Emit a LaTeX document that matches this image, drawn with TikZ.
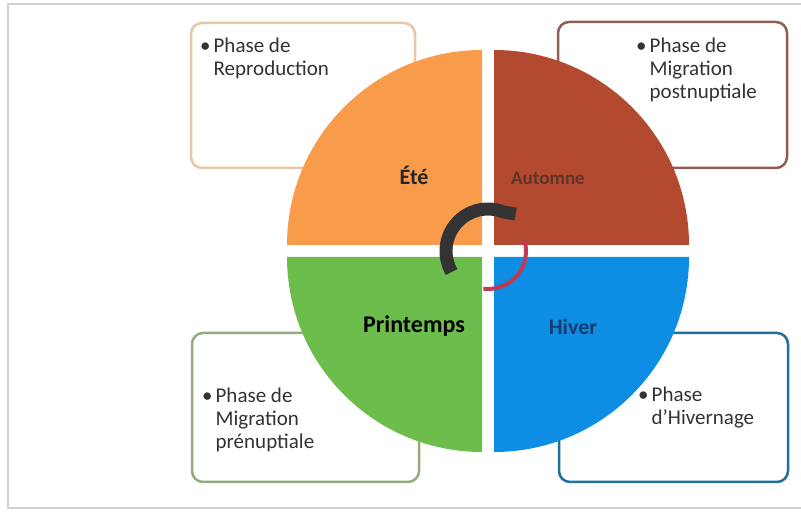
\documentclass[tikz,border=0pt]{standalone}
\usepackage{fontspec}
\setmainfont{Carlito}
\definecolor{ete}{HTML}{F89B4B}
\definecolor{aut}{HTML}{B34A2F}
\definecolor{hiv}{HTML}{0D8DE3}
\definecolor{pri}{HTML}{6CBD4B}
\definecolor{eteB}{HTML}{E9C6A6}
\definecolor{autB}{HTML}{8E5E55}
\definecolor{priB}{HTML}{93AC7E}
\definecolor{hivB}{HTML}{1F6F99}
\definecolor{txt}{HTML}{333333}
\definecolor{arcdark}{HTML}{333333}
\definecolor{arcred}{HTML}{BE3C52}
\begin{document}
\begin{tikzpicture}[x=1bp,y=1bp,
  infobox/.style={line width=2.5bp, rounded corners=11bp, fill=white},
  boxtxt/.style={anchor=north west, inner sep=0pt, text=txt,
    font=\fontsize{21bp}{23bp}\selectfont},
  season/.style={font=\bfseries\fontsize{22bp}{24bp}\selectfont, inner sep=0pt}]
\useasboundingbox (0,0) rectangle (801,513);
% outer frame
\draw[black!18, line width=1.5bp] (801,509) -- (8,509) -- (8,5) -- (801,5);
% boxes
\draw[infobox, draw=eteB] (191,345) rectangle (415,490);
\draw[infobox, draw=autB] (558,345) rectangle (787,491);
\draw[infobox, draw=priB] (192,31) rectangle (419,180);
\draw[infobox, draw=hivB] (559,31) rectangle (788,180);
% box texts
\node[boxtxt] (tTL) at (200,477) {\begin{tabular}{@{}l@{\hspace{3bp}}l@{}}\textbullet & Phase de\\ & Reproduction\end{tabular}};
\node[boxtxt] (tTR) at (636,477) {\begin{tabular}{@{}l@{\hspace{3bp}}l@{}}\textbullet & Phase de\\ & Migration\\ & postnuptiale\end{tabular}};
\node[boxtxt] (tBL) at (202,127) {\begin{tabular}{@{}l@{\hspace{3bp}}l@{}}\textbullet & Phase de\\ & Migration\\ & prénuptiale\end{tabular}};
\node[boxtxt] (tBR) at (638,128) {\begin{tabular}{@{}l@{\hspace{3bp}}l@{}}\textbullet & Phase\\ & d’Hivernage\end{tabular}};
% quadrants
\fill[ete] (482,268) -- (287,268) arc[start angle=180, end angle=90, radius=195bp] -- cycle;
\fill[aut] (494,268) -- (494,463) arc[start angle=90, end angle=0, radius=195bp] -- cycle;
\fill[hiv] (494,256) -- (689,256) arc[start angle=0, end angle=-90, radius=195bp] -- cycle;
\fill[pri] (482,256) -- (482,61) arc[start angle=270, end angle=180, radius=195bp] -- cycle;
% season labels
\node[season, text=black!85] (ete) at (414,338) {Été};
\node[season, text={rgb,255:red,95;green,52;blue,40}, font=\bfseries\fontsize{19bp}{22bp}\selectfont] (aut) at (548,335) {Automne};
\node[season, text=black, font=\bfseries\fontsize{24bp}{26bp}\selectfont] (pri) at (414,187) {Printemps};
\node[season, text={rgb,255:red,25;green,60;blue,110}] (hiv) at (573,186) {Hiver};
% central cycle arcs
\coordinate (c) at (488,262);
\draw[arcred, line width=4bp] ([shift={(18:38bp)}]c) arc[start angle=18, end angle=-97, radius=38bp];
\draw[arcdark, line width=13bp] ([shift={(210:42bp)}]c) arc[start angle=210, end angle=68, radius=42bp] -- ++(12,-2);
\end{tikzpicture}
\end{document}
